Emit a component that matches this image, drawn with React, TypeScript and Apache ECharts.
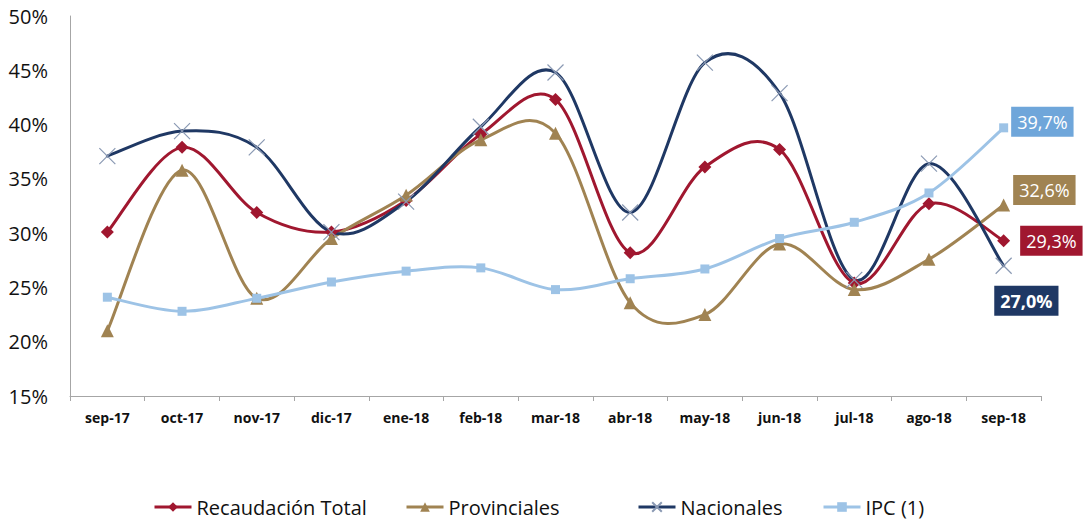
import React, { useEffect, useRef } from "react";
import * as echarts from "echarts";

const categories = ["sep-17", "oct-17", "nov-17", "dic-17", "ene-18", "feb-18", "mar-18", "abr-18", "may-18", "jun-18", "jul-18", "ago-18", "sep-18"];
const recaudacion = [30.1, 37.9, 31.9, 30.1, 33.0, 39.1, 42.3, 28.2, 36.1, 37.7, 25.4, 32.7, 29.3];
const provinciales = [21.0, 35.8, 24.0, 29.5, 33.5, 38.6, 39.2, 23.6, 22.5, 29.0, 24.8, 27.6, 32.6];
const nacionales = [37.1, 39.4, 37.9, 30.1, 32.9, 39.8, 44.8, 31.9, 45.7, 42.9, 25.7, 36.4, 27.0];
const ipc = [24.1, 22.8, 24.0, 25.5, 26.5, 26.8, 24.8, 25.8, 26.7, 29.5, 31.0, 33.7, 39.7];
const yTicks = { min: 15, max: 50, step: 5 };

const FONT = "'Open Sans', 'Noto Sans', sans-serif";
const RED = "#A0172F";
const GOLD = "#A08352";
const NAVY = "#1F3864";
const LBLUE = "#9DC3E6";
const XMARK = "path://M0,0L10,10M10,0L0,10";

function lastLabel(values: number[], label: any) {
  return values.map((v, i) =>
    i === values.length - 1
      ? {
          value: v,
          label: {
            show: true,
            formatter: (p: any) => p.value.toFixed(1).replace(".", ",") + "%",
            color: "#fff",
            fontFamily: FONT,
            fontSize: 18,
            lineHeight: 20,
            padding: [5, 6, 5, 6],
            position: "right",
            ...label,
          },
        }
      : v
  );
}

// Excel-like smoothed curve (Catmull-Rom style Bezier) drawn through the axes' scales
function curveSeries(name: string, values: number[], color: string, z: number) {
  return {
    name,
    type: "custom",
    silent: true,
    z,
    data: values.map((v, i) => [i, v]),
    encode: { x: 0, y: 1 },
    renderItem: (params: any, api: any) => {
      const i = params.dataIndex;
      const n = values.length;
      if (i >= n - 1) return null;
      const p = (k: number) => api.coord([Math.max(0, Math.min(n - 1, k)), values[Math.max(0, Math.min(n - 1, k))]]);
      const p0 = p(i - 1), p1 = p(i), p2 = p(i + 1), p3 = p(i + 2);
      const t = 1 / 6;
      return {
        type: "bezierCurve",
        shape: {
          x1: p1[0], y1: p1[1],
          cpx1: p1[0] + (p2[0] - p0[0]) * t, cpy1: p1[1] + (p2[1] - p0[1]) * t,
          cpx2: p2[0] - (p3[0] - p1[0]) * t, cpy2: p2[1] - (p3[1] - p1[1]) * t,
          x2: p2[0], y2: p2[1],
        },
        style: { stroke: color, lineWidth: 3, fill: "none", lineCap: "round" },
      };
    },
  };
}

function markerSeries(name: string, values: number[], color: string, extra: any, label: any, z: number) {
  return {
    name,
    type: "line",
    data: lastLabel(values, label),
    color,
    lineStyle: { color, width: 3, opacity: 0 },
    itemStyle: { color },
    z,
    ...extra,
  };
}

export default function App() {
  const ref = useRef<HTMLDivElement>(null);
  useEffect(() => {
    if (!ref.current) return;
    const chart = echarts.init(ref.current, null, { renderer: "svg" });
    const legendBase = {
      top: 497,
      itemWidth: 37,
      itemHeight: 12,
      itemGap: 0,
      textStyle: { fontFamily: FONT, fontSize: 20, color: "#111" },
      lineStyle: { opacity: 1, width: 3 },
      padding: 0,
    };
    chart.setOption({
      animation: false,
      backgroundColor: "#fff",
      grid: { left: 70, right: 48, top: 16, bottom: 131, containLabel: false },
      legend: [
        { ...legendBase, left: 153, data: ["Recaudación Total"] },
        { ...legendBase, left: 405, data: ["Provinciales"] },
        { ...legendBase, left: 637, data: ["Nacionales"] },
        { ...legendBase, left: 822, data: ["IPC (1)"] },
      ],
      xAxis: {
        type: "category",
        data: categories,
        boundaryGap: true,
        axisLine: { show: true, lineStyle: { color: "#A6A6A6", width: 1 } },
        axisTick: { show: true, length: 5, lineStyle: { color: "#A6A6A6" } },
        axisLabel: { fontFamily: FONT, fontSize: 14, fontWeight: "bold", color: "#111", margin: 14 },
      },
      yAxis: {
        type: "value",
        min: yTicks.min,
        max: yTicks.max,
        interval: yTicks.step,
        axisLine: { show: true, lineStyle: { color: "#A6A6A6", width: 1 } },
        axisTick: { show: false },
        splitLine: { show: false },
        axisLabel: { formatter: "{value}%", fontFamily: FONT, fontSize: 20, color: "#111", margin: 22 },
      },
      series: [
        curveSeries("c-rec", recaudacion, RED, 1),
        curveSeries("c-prov", provinciales, GOLD, 2),
        curveSeries("c-nac", nacionales, NAVY, 3),
        curveSeries("c-ipc", ipc, LBLUE, 4),
        markerSeries("Recaudación Total", recaudacion, RED, { symbol: "diamond", symbolSize: 13 },
          { distance: 10, backgroundColor: RED }, 5),
        markerSeries("Provinciales", provinciales, GOLD, { symbol: "triangle", symbolSize: 13 },
          { distance: 3, offset: [0, -15], backgroundColor: GOLD }, 6),
        markerSeries("Nacionales", nacionales, NAVY,
          { symbol: XMARK, symbolSize: 16, itemStyle: { color: NAVY, borderColor: "#8A99B3", borderWidth: 1.2 } },
          { distance: 0, offset: [-18, 35], backgroundColor: NAVY, fontWeight: "bold" }, 7),
        markerSeries("IPC (1)", ipc, LBLUE, { symbol: "rect", symbolSize: 9 },
          { distance: 3, offset: [0, -6], backgroundColor: "#6FA6DA" }, 8),
      ],
    });
    return () => chart.dispose();
  }, []);
  return <div ref={ref} style={{ position: "fixed", left: 0, top: 0, width: 1089, height: 527, background: "#fff" }} />;
}
